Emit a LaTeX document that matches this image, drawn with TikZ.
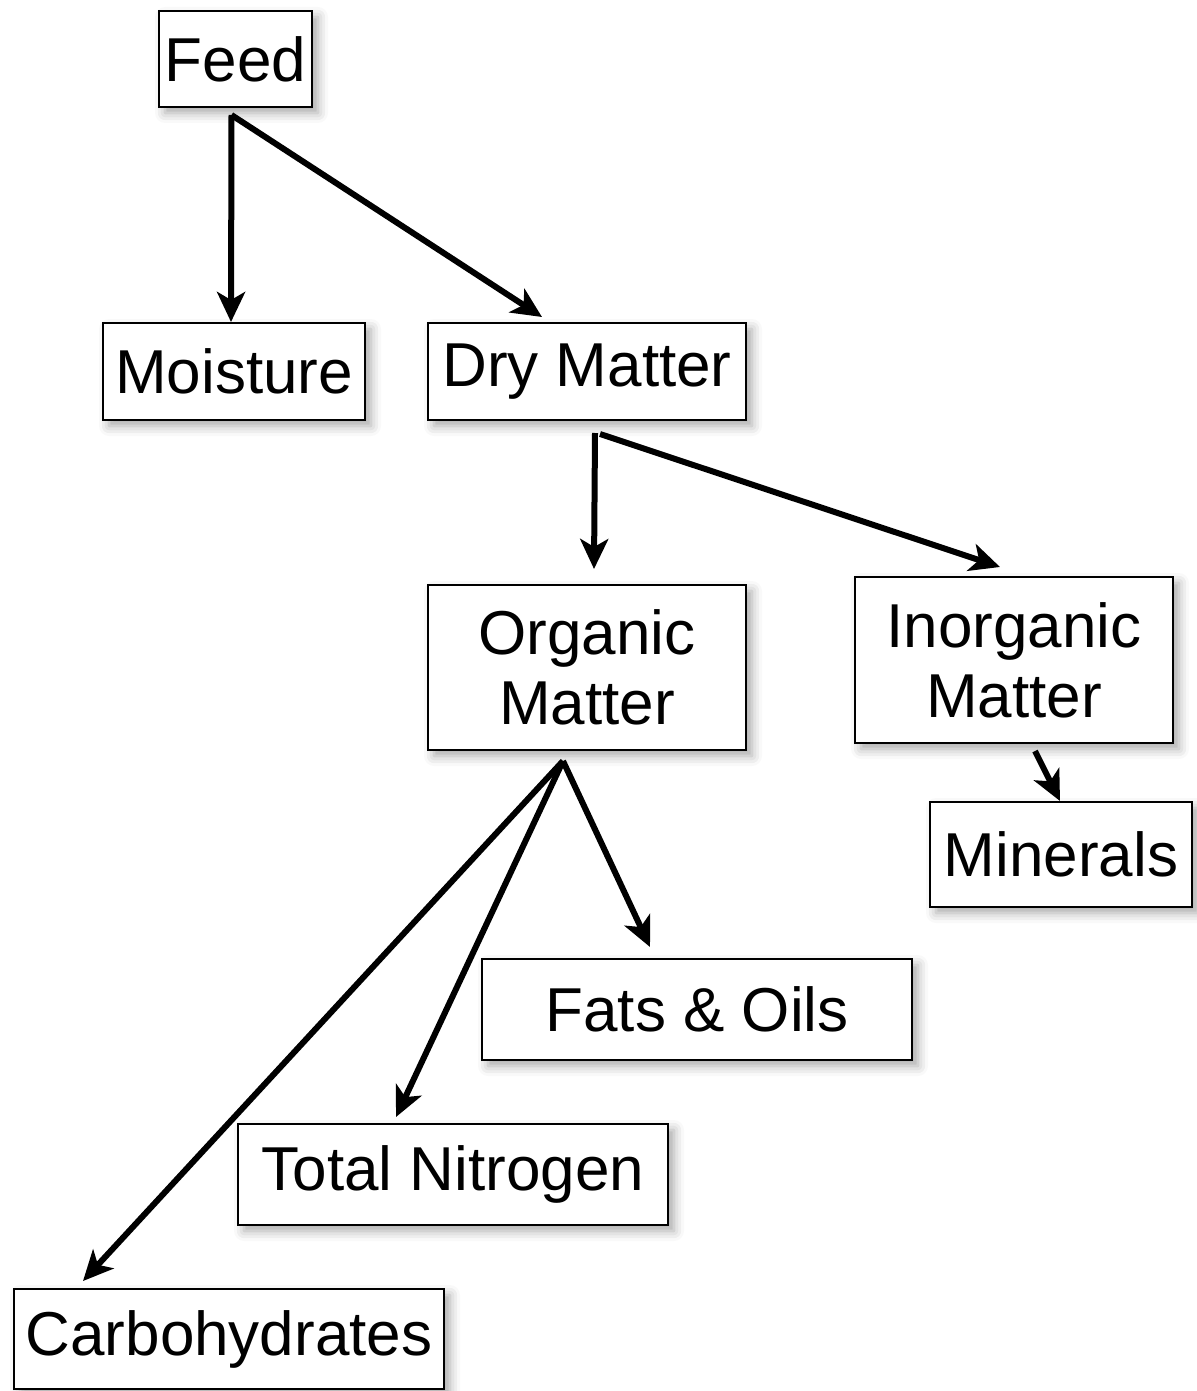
\documentclass[tikz,border=0pt]{standalone}
\usepackage{fontspec}
\setmainfont{Liberation Sans}
\usetikzlibrary{arrows.meta,shadows.blur}
\begin{document}
\begin{tikzpicture}[x=0.5pt,y=-0.5pt,
  box/.style={draw=black,line width=1pt,fill=white,inner sep=0pt,align=center,
    font=\fontsize{31}{35}\selectfont,
    blur shadow={shadow xshift=3pt,shadow yshift=-3pt,shadow blur radius=5pt,shadow opacity=35}},
  arr/.style={line width=3pt,-{Stealth[length=15pt,width=14pt,inset=4pt]}}]
\useasboundingbox (0,0) rectangle (1197,1391);
\node[box,minimum width=76.5pt,minimum height=48pt] (feed) at (235.5,59) {Feed};
\node[box,minimum width=131pt,minimum height=48.5pt] (moist) at (234,371.5) {Moisture};
\node[box,minimum width=159pt,minimum height=48.5pt] (dry) at (587,371.5) {Dry Matter};
\node[box,minimum width=159pt,minimum height=82.5pt] (org) at (587,667.5) {Organic\\Matter};
\node[box,minimum width=159pt,minimum height=83pt] (inorg) at (1014,660) {Inorganic\\Matter};
\node[box,minimum width=131pt,minimum height=52.5pt] (min) at (1061,854.5) {Minerals};
\node[box,minimum width=215pt,minimum height=50.5pt] (fats) at (697,1009.5) {Fats \& Oils};
\node[box,minimum width=215pt,minimum height=50.5pt] (tn) at (453,1174.5) {Total Nitrogen};
\node[box,minimum width=215pt,minimum height=50pt] (carb) at (229,1339) {Carbohydrates};
\coordinate (fo) at ([xshift=-2pt,yshift=-3.5pt]feed.south);
\coordinate (dm) at ([xshift=4.5pt,yshift=-6pt]dry.south);
\coordinate (om) at ([xshift=-12pt,yshift=-5pt]org.south);
\draw[arr] (fo) -- ([xshift=-1.5pt]moist.north);
\draw[arr] (fo) -- ([xshift=-22.5pt,yshift=2.5pt]dry.north);
\draw[arr] ([xshift=-0.5pt]dm) -- ([xshift=3.5pt,yshift=7.5pt]org.north);
\draw[arr] ([xshift=2pt,yshift=-0.5pt]dm) -- ([xshift=-7pt,yshift=4.5pt]inorg.north);
\draw[arr] ([xshift=10.5pt,yshift=-3.5pt]inorg.south) -- ([xshift=-0.5pt]min.north);
\draw[arr] (om) -- ([xshift=-23.5pt,yshift=5.5pt]fats.north);
\draw[arr] (om) -- ([xshift=-28.5pt,yshift=3pt]tn.north);
\draw[arr] (om) -- ([xshift=-73pt,yshift=3.5pt]carb.north);
\end{tikzpicture}
\end{document}
